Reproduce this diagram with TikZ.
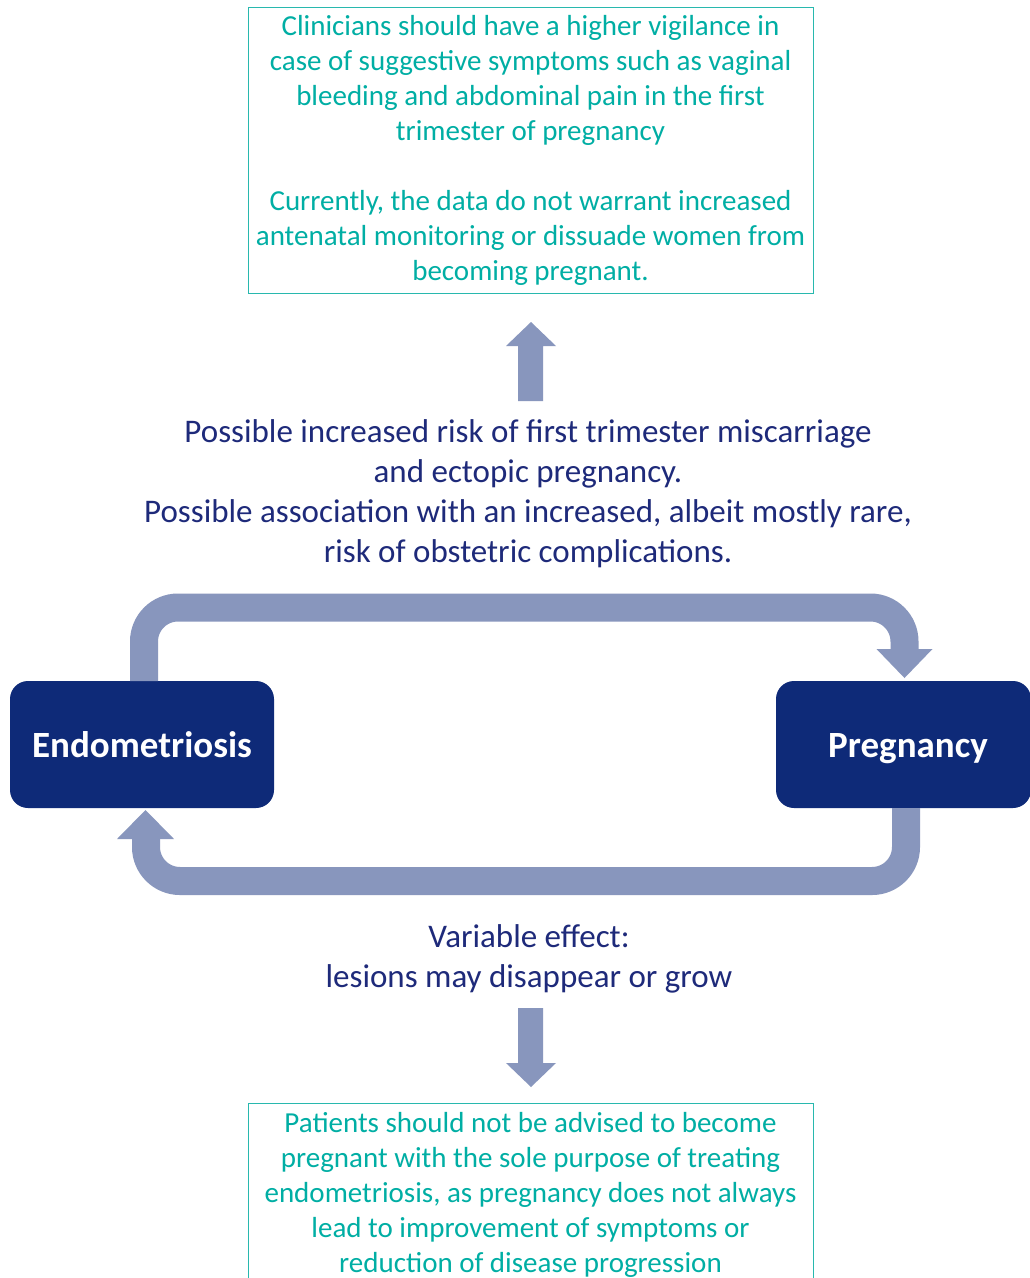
\documentclass[tikz,border=0pt]{standalone}
\usepackage{fontspec}
\setmainfont{Carlito}
\definecolor{tealtxt}{RGB}{0,174,164}
\definecolor{tealline}{RGB}{40,184,174}
\definecolor{navytxt}{RGB}{30,42,122}
\definecolor{navybox}{RGB}{14,42,120}
\definecolor{arrowc}{RGB}{136,150,189}
\begin{document}
\begin{tikzpicture}[x=1pt,y=-1pt,
  tealbox/.style={draw=tealline, line width=1pt, text=tealtxt, align=center,
    inner sep=0pt, font=\fontsize{29}{35}\selectfont},
  midtext/.style={text=navytxt, align=center, inner sep=0pt, font=\fontsize{33}{40}\selectfont},
  mainbox/.style={fill=navybox, rounded corners=18pt, text=white, inner sep=0pt,
    text height=26pt, text depth=0pt,
    font=\fontsize{37}{40}\selectfont\bfseries},
  loopline/.style={draw=arrowc, line width=28pt, rounded corners=34pt}]
\clip (0,0) rectangle (1030,1278);
\fill[white] (0,0) rectangle (1030,1278);

% top box
\node[tealbox, minimum width=565pt, minimum height=286pt] (top) at (530.5,150)
 {\rule{0pt}{4pt}Clinicians should have a higher vigilance in\\case of suggestive symptoms such as vaginal\\bleeding and abdominal pain in the first\\trimester of pregnancy\\[35pt]Currently, the data do not warrant increased\\antenatal monitoring or dissuade women from\\becoming pregnant.};

% middle text
\node[midtext] (mid) at (528,494)
 {Possible increased risk of first trimester miscarriage\\and ectopic pregnancy.\\Possible association with an increased, albeit mostly rare,\\risk of obstetric complications.};

% up arrow
\fill[arrowc] (518,401) -- (518,346) -- (506,346) -- (531,322) -- (556,346) -- (543,346) -- (543,401) -- cycle;

% main boxes
\node[mainbox, minimum width=264pt, minimum height=127pt] (endo) at (142,744.5) {Endometriosis};
\node[mainbox, minimum width=255pt, minimum height=127pt] (preg) at (903.5,744.5) {\hspace*{9pt}Pregnancy};

% loop connectors
\coordinate (a1) at (144,681);
\coordinate (a2) at (904.5,650);
\draw[loopline] (a1) -- (144,607.5) -- (904.5,607.5) -- (a2);
\fill[arrowc] (876.5,649) -- (932.5,649) -- (904.5,678) -- cycle;

\coordinate (b1) at (906,808);
\coordinate (b2) at (146,839);
\draw[loopline] (b1) -- (906,881) -- (146,881) -- (b2);
\fill[arrowc] (117,839) -- (174,839) -- (145.5,810) -- cycle;

% bottom text
\node[midtext] (var) at (529,959) {Variable effect:\\lesions may disappear or grow};

% down arrow
\fill[arrowc] (518,1008) -- (518,1063) -- (506,1063) -- (531,1087) -- (556,1063) -- (543,1063) -- (543,1008) -- cycle;

% bottom box
\draw[draw=tealline, line width=1pt] (248,1310) -- (248,1103.5) -- (813,1103.5) -- (813,1310);
\node[text=tealtxt, align=center, inner sep=0pt, font=\fontsize{29}{35}\selectfont] (bot) at (530.5,1195)
 {Patients should not be advised to become\\pregnant with the sole purpose of treating\\endometriosis, as pregnancy does not always\\lead to improvement of symptoms or\\reduction of disease progression};
\end{tikzpicture}
\end{document}
